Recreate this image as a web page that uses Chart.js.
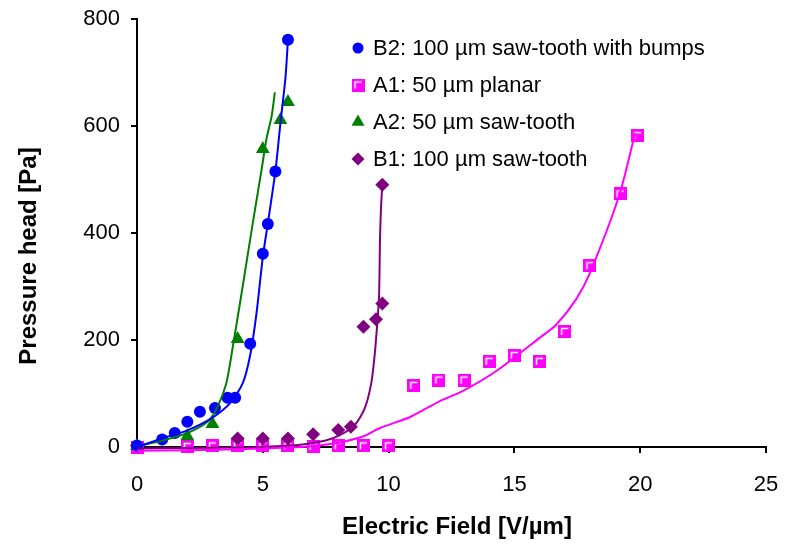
<!DOCTYPE html>
<html>
<head>
<meta charset="utf-8">
<script src="https://cdn.jsdelivr.net/npm/chart.js@4.4.0/dist/chart.umd.min.js"></script>
<style>
  body { margin: 0; background: #fff; }
  canvas { display: block; }
</style>
</head>
<body>
<canvas id="mycanvas" width="785" height="548"></canvas>
<script>
// measured points, electric field [V/um] vs pressure head [Pa]
var b2X = [0, 1, 1.5, 2, 2.5, 3.1, 3.6, 3.9, 4.5, 5, 5.2, 5.5, 6];
var b2Y = [3, 14, 26, 47, 66, 73, 92, 92, 193, 361, 417, 515, 761];

var a1X = [0, 2, 3, 4, 5, 6, 7, 8, 9, 10, 11, 12, 13, 14, 15, 16, 17, 18, 19.2, 19.9];
var a1Y = [0, 1, 2, 3, 2, 2, 1, 2, 2, 2, 115, 125, 125, 160, 171, 160, 216, 339, 473, 582];

var a2X = [0, 2, 3, 4, 5, 5.7, 6];
var a2Y = [2, 20, 43, 202, 557, 611, 645];

var b1X = [0, 4, 5, 6, 7, 8, 8.5, 9, 9.5, 9.75, 9.75];
var b1Y = [3, 16, 16, 16, 24, 32, 38, 225, 239, 268, 490];

// trend curves
var b2FitX = [0, 1, 2, 3, 3.7, 4.2, 4.5, 4.75, 5, 5.2, 5.5, 5.7, 5.9, 6];
var b2FitY = [0, 16, 31, 55, 82, 119, 172, 250, 355, 418, 515, 605, 690, 761];

var a2FitX = [0, 1, 2, 2.8, 3.2, 3.55, 3.8, 4.2, 4.6, 4.95, 5.15, 5.35, 5.48];
var a2FitY = [1, 12, 26, 47, 75, 119, 185, 300, 418, 518, 577, 618, 663];

var b1FitX = [0, 2, 4, 5, 6.5, 7.5, 8.06, 8.65, 9.05, 9.31, 9.44, 9.54, 9.62, 9.66, 9.7, 9.75];
var b1FitY = [-3, -2, -1, 0, 4, 12, 22, 41, 72, 119, 169, 225, 281, 393, 449, 490];

var a1FitX = [0, 2, 4, 6, 7, 8, 9, 9.64, 10.9, 12, 13, 14.34, 16, 16.65, 17.45, 18, 19.17, 19.8];
var a1FitY = [-7, -6, -4, -1, 2, 8, 20, 35, 57, 85, 106, 144, 204, 228, 276, 325, 471, 587];

var seriesNames = ["B2: 100 \u00b5m saw-tooth with bumps", "A1: 50 \u00b5m planar", "A2: 50 \u00b5m saw-tooth", "B1: 100 \u00b5m saw-tooth"];
var xTicks = [0, 5, 10, 15, 20, 25];
var yTicks = [0, 200, 400, 600, 800];

var FONT = "Arial, 'Liberation Sans', sans-serif";

function pts(xs, ys) {
  var out = [];
  for (var i in xs) out.push({ x: xs[i], y: ys[i] });
  return out;
}

// magenta square marker with the little white corner
function squareMarker(size) {
  var c = document.createElement('canvas');
  c.width = size; c.height = size;
  var g = c.getContext('2d');
  g.fillStyle = '#FF00FF';
  g.fillRect(0, 0, size, size);
  g.strokeStyle = '#ffffff';
  g.lineWidth = 1.5;
  g.beginPath();
  g.moveTo(3.5, size - 3);
  g.lineTo(3.5, 3.5);
  g.lineTo(size - 3, 3.5);
  g.stroke();
  return c;
}
var sq = squareMarker(13);

function fitLine(xs, ys, color) {
  return {
    type: 'line', data: pts(xs, ys), borderColor: color, borderWidth: 2,
    pointRadius: 0, fill: false, tension: 0.25, clip: false
  };
}
function markers(xs, ys, color, style, r) {
  return {
    type: 'scatter', data: pts(xs, ys), backgroundColor: color, borderColor: color,
    borderWidth: 0, pointStyle: style, pointRadius: r, pointHoverRadius: r, clip: false
  };
}

// no extra room for label overhang, the layout padding handles it
function noOverhang(s) {
  s.paddingTop = 0; s.paddingBottom = 0; s.paddingLeft = 0; s.paddingRight = 0;
}

var legendItems = [
  { text: seriesNames[0], style: 'circle', color: '#0000FF', r: 5.5 },
  { text: seriesNames[1], style: sq, color: '#FF00FF', r: 6 },
  { text: seriesNames[2], style: 'triangle', color: '#008000', r: 7.5 },
  { text: seriesNames[3], style: 'rectRot', color: '#800080', r: 6.5 }
];

// legend and axis titles drawn straight onto the canvas
var decor = {
  id: 'decor',
  afterDraw: function(chart) {
    var ctx = chart.ctx;
    ctx.save();
    ctx.textBaseline = 'middle';
    ctx.textAlign = 'left';
    ctx.font = "22px " + FONT;
    for (var i = 0; i < legendItems.length; i++) {
      var it = legendItems[i];
      var y = 48 + i * 37;
      ctx.fillStyle = it.color;
      Chart.helpers.drawPoint(ctx, {
        pointStyle: it.style, radius: it.r, borderWidth: 0, rotation: 0
      }, 358, y);
      ctx.fillStyle = '#000';
      ctx.fillText(it.text, 373, y + 1);
    }

    ctx.font = "bold 24px " + FONT;
    ctx.textAlign = 'center';
    ctx.fillText("Electric Field [V/\u00b5m]", 457, 527);
    ctx.translate(29, 256);
    ctx.rotate(-Math.PI / 2);
    ctx.fillText("Pressure head [Pa]", 0, 0);
    ctx.restore();
  }
};

var ctx = document.getElementById('mycanvas').getContext('2d');
var chart = new Chart(ctx, {
  type: 'scatter',
  data: {
    datasets: [
      fitLine(b2FitX, b2FitY, '#0000FF'),
      fitLine(a1FitX, a1FitY, '#FF00FF'),
      fitLine(a2FitX, a2FitY, '#008000'),
      fitLine(b1FitX, b1FitY, '#800080'),
      markers(b2X, b2Y, '#0000FF', 'circle', 6),
      markers(a2X, a2Y, '#008000', 'triangle', 8),
      markers(b1X, b1Y, '#800080', 'rectRot', 7),
      markers(a1X, a1Y, '#FF00FF', sq, 6)
    ]
  },
  options: {
    responsive: false,
    animation: false,
    devicePixelRatio: 1,
    layout: { padding: { top: 19, right: 19, left: 0, bottom: 0 } },
    plugins: { legend: { display: false }, tooltip: { enabled: false } },
    scales: {
      x: {
        type: 'linear', min: 0, max: 25,
        afterFit: function(s) { s.height = 101; noOverhang(s); },
        afterBuildTicks: function(s) { s.ticks = xTicks.map(function(v) { return { value: v }; }); },
        border: { color: '#000', width: 2 },
        grid: { drawOnChartArea: false, color: '#000', lineWidth: 2, tickLength: 6 },
        ticks: { color: '#000', font: { family: FONT, size: 22 }, padding: 19, maxRotation: 0 }
      },
      y: {
        type: 'linear', min: 0, max: 800,
        afterFit: function(s) { s.width = 137; noOverhang(s); },
        afterBuildTicks: function(s) { s.ticks = yTicks.map(function(v) { return { value: v }; }); },
        border: { color: '#000', width: 2 },
        grid: { drawOnChartArea: false, color: '#000', lineWidth: 2, tickLength: 6 },
        ticks: { color: '#000', font: { family: FONT, size: 22 }, padding: 11 }
      }
    }
  },
  plugins: [decor]
});
</script>
</body>
</html>
